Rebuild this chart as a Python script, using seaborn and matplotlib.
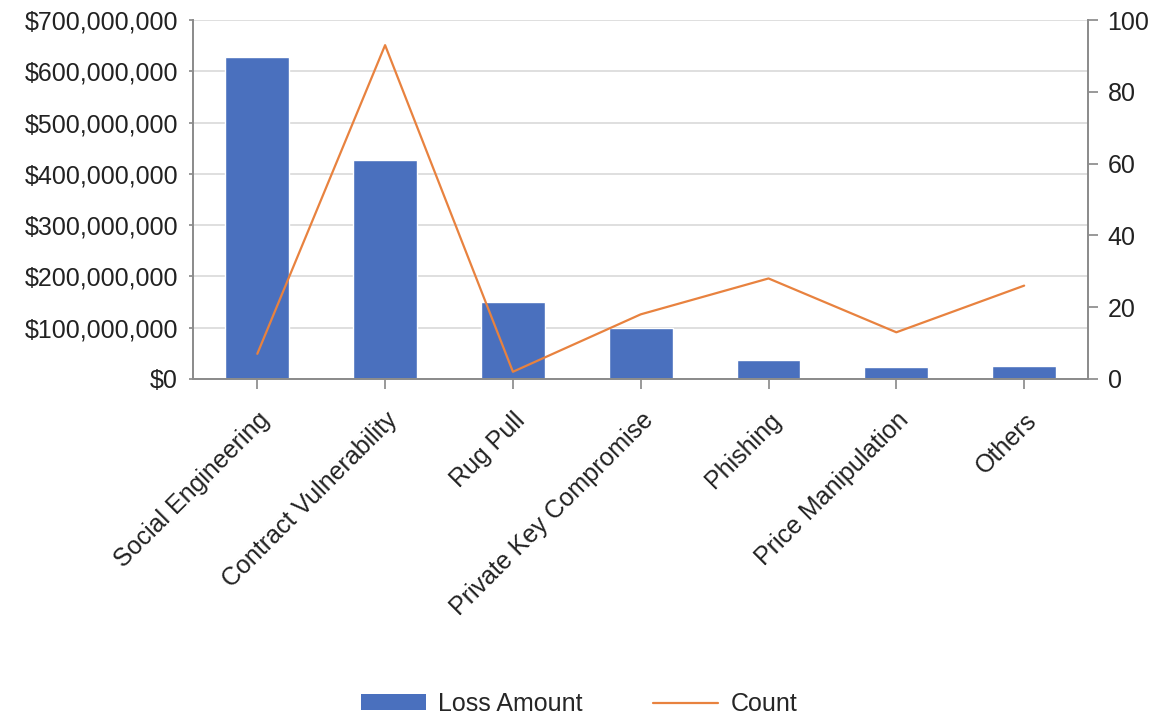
import numpy as np
import pandas as pd
import matplotlib
matplotlib.use("Agg")
import matplotlib.pyplot as plt
import seaborn as sns
from matplotlib.ticker import FuncFormatter
from matplotlib.patches import Patch
from matplotlib.lines import Line2D

# data
categories = ["Social Engineering", "Contract Vulnerability", "Rug Pull",
              "Private Key Compromise", "Phishing", "Price Manipulation", "Others"]
loss_amount = [628e6, 427e6, 150e6, 99e6, 36e6, 23e6, 25e6]
count = [7, 93, 2, 18, 28, 13, 26]

df = pd.DataFrame({"Type": categories, "Loss": loss_amount, "Count": count,
                   "idx": np.arange(len(categories))})

sns.set_theme(style="white")
plt.rcParams["font.family"] = ["Liberation Sans", "DejaVu Sans"]

blue = "#4A70BE"
orange = "#E8823F"
grey = "#8C8C8C"
fs = 18

fig, ax = plt.subplots(figsize=(11.58, 7.15), dpi=100)
fig.subplots_adjust(left=0.167, right=0.9396, top=0.972, bottom=0.47)

sns.barplot(data=df, x="Type", y="Loss", color=blue, width=0.5,
            saturation=1, ax=ax, zorder=2)
ax.set_ylim(0, 700e6)
ax.set_yticks(np.arange(0, 700e6 + 1, 100e6))
ax.yaxis.set_major_formatter(FuncFormatter(lambda v, p: f"${v:,.0f}"))
ax.grid(axis="y", color="#D9D9D9", linewidth=1.2, zorder=0)
ax.set_axisbelow(True)
ax.set_xlim(-0.5, len(categories) - 0.5)
ax.set_xlabel("")
ax.set_ylabel("")
ax.tick_params(axis="y", labelsize=fs, length=3, direction="out", pad=8,
               color=grey, colors="#222222", left=True)
ax.tick_params(axis="x", labelsize=fs, length=7, direction="out",
               color=grey, colors="#222222", bottom=True, pad=14)
plt.setp(ax.get_xticklabels(), rotation=45, ha="right", rotation_mode="anchor")

ax2 = ax.twinx()
sns.lineplot(data=df, x="idx", y="Count", color=orange, linewidth=1.6, ax=ax2)
ax2.set_ylim(0, 100)
ax2.set_yticks(np.arange(0, 101, 20))
ax2.set_ylabel("")
ax2.tick_params(axis="y", labelsize=fs, length=7, direction="out",
                color=grey, colors="#222222", pad=7, right=True)

for a in (ax, ax2):
    a.spines["top"].set_visible(False)
    for s in ("left", "right", "bottom"):
        a.spines[s].set_color(grey)
        a.spines[s].set_linewidth(1.3)

handles = [Patch(facecolor=blue, edgecolor="none", label="Loss Amount"),
           Line2D([0], [0], color=orange, linewidth=1.6, label="Count")]
fig.legend(handles=handles, loc="lower center", ncol=2, frameon=False,
           fontsize=fs, bbox_to_anchor=(0.5, -0.033), handlelength=2.6,
           handleheight=0.6, columnspacing=2.8, handletextpad=0.5)

fig.savefig("out.png", dpi=100)
